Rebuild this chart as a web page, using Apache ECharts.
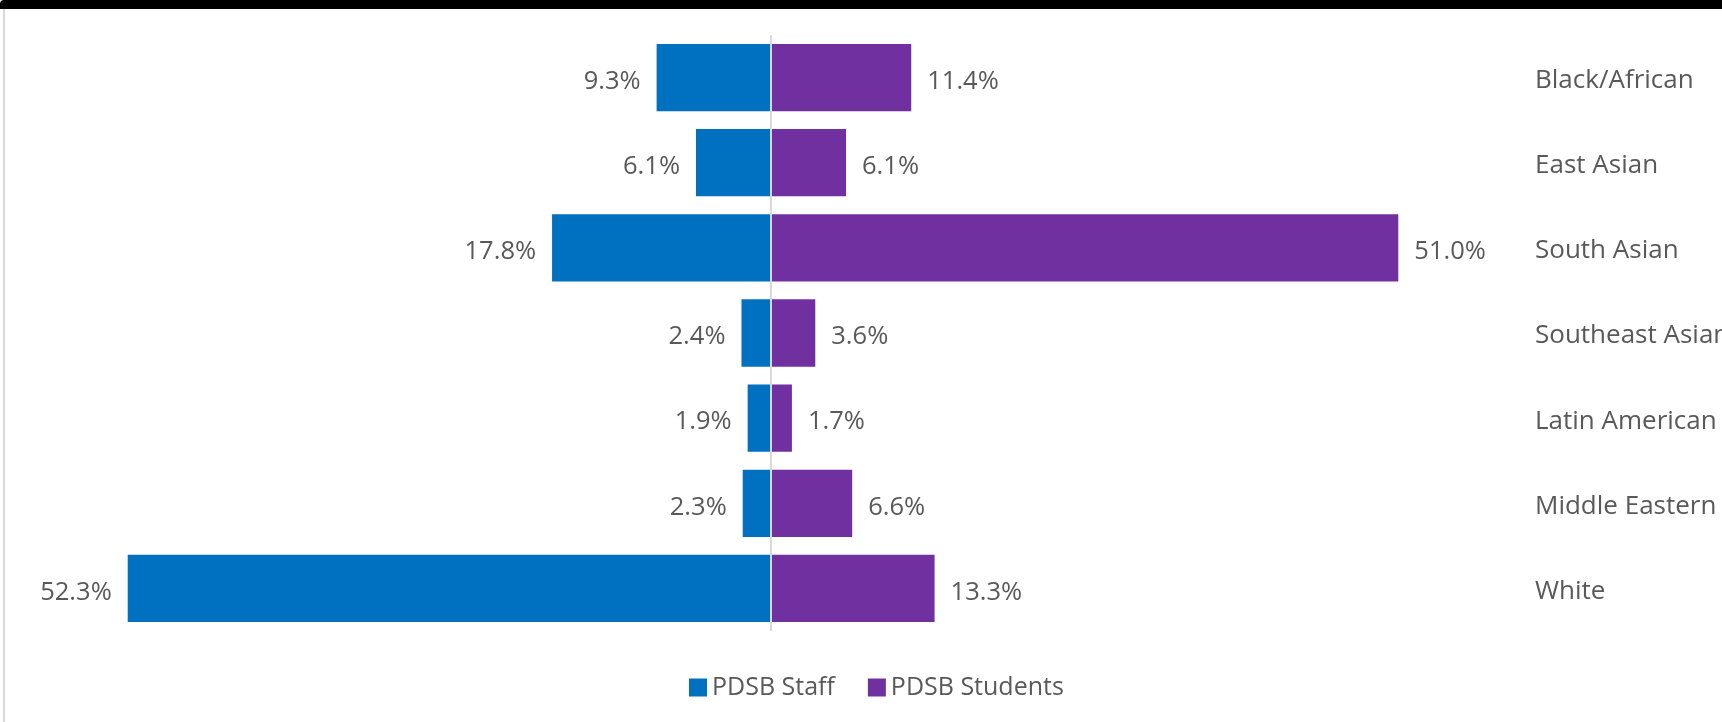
<!DOCTYPE html>
<html>
<head>
<meta charset="utf-8">
<script src="https://cdn.jsdelivr.net/npm/echarts@6/dist/echarts.min.js"></script>
<style>
  html, body { margin: 0; padding: 0; background: #ffffff; }
  #chart { width: 1722px; height: 722px; }
</style>
</head>
<body>
<div id="chart"></div>
<script>
// Ethno-racial identity: share of staff vs. students (%)
const categories = ['Black/African', 'East Asian', 'South Asian', 'Southeast Asian', 'Latin American', 'Middle Eastern', 'White'];
const staffShare = [9.3, 6.1, 17.8, 2.4, 1.9, 2.3, 52.3];
const studentShare = [11.4, 6.1, 51.0, 3.6, 1.7, 6.6, 13.3];
const seriesNames = ['PDSB Staff', 'PDSB Students'];

const TEXT = '#595959';
const FONT = '"Open Sans", "Noto Sans", sans-serif';

const chart = echarts.init(document.getElementById('chart'), null, { renderer: 'canvas' });

const pct = p => Math.abs(p.value).toFixed(1) + '%';

chart.setOption({
  animation: false,
  backgroundColor: '#ffffff',
  textStyle: { fontFamily: FONT, color: TEXT },
  graphic: [
    { type: 'rect', shape: { x: 0, y: 0, width: 1722, height: 9, r: [4, 0, 0, 0] }, style: { fill: '#000000' }, z: 10 },
    { type: 'rect', shape: { x: 3, y: 9, width: 2, height: 713 }, style: { fill: '#d9d9d9' }, z: 10 }
  ],
  grid: { left: 33, right: 213, top: 35, height: 596, containLabel: false, outerBoundsMode: 'none' },
  legend: {
    left: 684, top: 670,
    itemWidth: 18, itemHeight: 18, itemGap: 33,
    icon: 'rect',
    textStyle: { fontFamily: FONT, fontSize: 25, color: TEXT },
    data: seriesNames
  },
  xAxis: {
    type: 'value', min: -60, max: 60,
    show: false
  },
  yAxis: {
    type: 'category', inverse: true, position: 'right',
    data: categories,
    axisLine: { show: false }, axisTick: { show: false },
    axisLabel: {
      margin: 26, align: 'left',
      formatter: v => '{c|' + v + '}',
      rich: { c: { fontFamily: FONT, fontSize: 26, color: TEXT, padding: [6, 0, 0, 0] } }
    }
  },
  series: [
    {
      name: seriesNames[0], type: 'bar', stack: 'share',
      data: staffShare.map(v => -v),
      barCategoryGap: '21%',
      itemStyle: { color: '#0070C0' },
      label: { show: true, position: 'left', distance: 16, offset: [0, 4], formatter: pct, fontFamily: FONT, fontSize: 25.5, color: TEXT },
      markLine: {
        silent: true, symbol: 'none', label: { show: false },
        lineStyle: { color: '#d9d9d9', width: 2, type: 'solid' },
        data: [{ xAxis: 0 }]
      }
    },
    {
      name: seriesNames[1], type: 'bar', stack: 'share',
      data: studentShare,
      barCategoryGap: '21%',
      itemStyle: { color: '#7030A0' },
      label: { show: true, position: 'right', distance: 16, offset: [0, 4], formatter: pct, fontFamily: FONT, fontSize: 25.5, color: TEXT }
    }
  ]
});
</script>
</body>
</html>
